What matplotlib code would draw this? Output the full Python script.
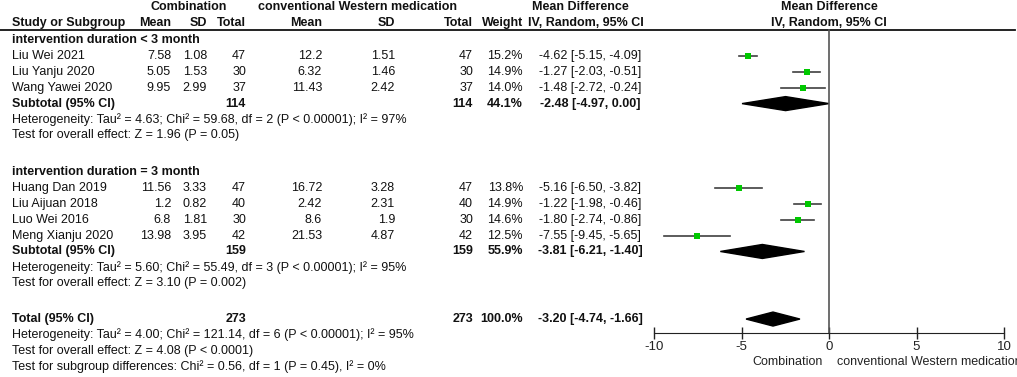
import numpy as np
import matplotlib
matplotlib.use("Agg")
import matplotlib.pyplot as plt

plt.rcParams['font.family'] = ['Liberation Sans', 'DejaVu Sans']

# study-level data
groups = ['intervention duration < 3 month', 'intervention duration = 3 month']
group_of = [0, 0, 0, 1, 1, 1, 1]
studies = ['Liu Wei 2021', 'Liu Yanju 2020', 'Wang Yawei 2020',
           'Huang Dan 2019', 'Liu Aijuan 2018', 'Luo Wei 2016', 'Meng Xianju 2020']
exp_mean = [7.58, 5.05, 9.95, 11.56, 1.2, 6.8, 13.98]
exp_sd = [1.08, 1.53, 2.99, 3.33, 0.82, 1.81, 3.95]
exp_n = [47, 30, 37, 47, 40, 30, 42]
ctl_mean = [12.2, 6.32, 11.43, 16.72, 2.42, 8.6, 21.53]
ctl_sd = [1.51, 1.46, 2.42, 3.28, 2.31, 1.9, 4.87]
ctl_n = [47, 30, 37, 47, 40, 30, 42]
weight = [15.2, 14.9, 14.0, 13.8, 14.9, 14.6, 12.5]
md = [-4.62, -1.27, -1.48, -5.16, -1.22, -1.80, -7.55]
md_lo = [-5.15, -2.03, -2.72, -6.50, -1.98, -2.74, -9.45]
md_hi = [-4.09, -0.51, -0.24, -3.82, -0.46, -0.86, -5.65]

# subgroup totals
sub_exp_n = [114, 159]
sub_ctl_n = [114, 159]
sub_weight = [44.1, 55.9]
sub_md = [-2.48, -3.81]
sub_lo = [-4.97, -6.21]
sub_hi = [0.00, -1.40]
sub_het = ['Heterogeneity: Tau\u00b2 = 4.63; Chi\u00b2 = 59.68, df = 2 (P < 0.00001); I\u00b2 = 97%',
           'Heterogeneity: Tau\u00b2 = 5.60; Chi\u00b2 = 55.49, df = 3 (P < 0.00001); I\u00b2 = 95%']
sub_z = ['Test for overall effect: Z = 1.96 (P = 0.05)',
         'Test for overall effect: Z = 3.10 (P = 0.002)']

# overall
tot_n = 273
tot_md, tot_lo, tot_hi = -3.20, -4.74, -1.66
tot_lines = ['Heterogeneity: Tau\u00b2 = 4.00; Chi\u00b2 = 121.14, df = 6 (P < 0.00001); I\u00b2 = 95%',
             'Test for overall effect: Z = 4.08 (P < 0.0001)',
             'Test for subgroup differences: Chi\u00b2 = 0.56, df = 1 (P = 0.45), I\u00b2 = 0%']

xticks = [-10, -5, 0, 5, 10]

W, H = 1017, 377
fig = plt.figure(figsize=(W / 100, H / 100), dpi=100)
ax = fig.add_axes([0, 0, 1, 1])
ax.set_xlim(0, W)
ax.set_ylim(H, 0)
ax.axis('off')

fp = fig.add_axes([654 / W, 0, 350 / W, 1])
fp.set_xlim(-10, 10)
fp.set_ylim(H, 0)
fp.patch.set_visible(False)
for s in ['top', 'left', 'right']:
    fp.spines[s].set_visible(False)
fp.spines['bottom'].set_position(('data', 333))
fp.spines['bottom'].set_color('#222222')
fp.set_yticks([])
fp.set_xticks(xticks)
fp.set_xticklabels([str(t) for t in xticks])
fp.tick_params(axis='x', direction='inout', length=9, width=1, labelsize=9.5,
               pad=1.5, colors='#222222')

FS = 9
col = dict(name=12, em=171, esd=207, en=246, cm=322, csd=395, cn=473, w=523, md=590)


def txt(x, y, s, ha='right', bold=False):
    ax.text(x, y, s, ha=ha, va='center', fontsize=FS,
            fontweight='bold' if bold else 'normal', color='#111111')


def diamond(y, m, lo, hi, h=7):
    fp.fill([lo, m, hi, m], [y, y - h, y, y + h], color='black', clip_on=False)


# headers
txt(189, 7, 'Combination', ha='center', bold=True)
txt(358, 7, 'conventional Western medication', ha='center', bold=True)
txt(580, 7, 'Mean Difference', ha='center', bold=True)
txt(col['name'], 23, 'Study or Subgroup', ha='left', bold=True)
for k, lab in [('em', 'Mean'), ('esd', 'SD'), ('en', 'Total'), ('cm', 'Mean'),
               ('csd', 'SD'), ('cn', 'Total'), ('w', 'Weight')]:
    txt(col[k], 23, lab, bold=True)
txt(586, 23, 'IV, Random, 95% CI', ha='center', bold=True)
fp.text(0, 7, 'Mean Difference', ha='center', va='center', fontsize=FS,
        fontweight='bold', color='#111111')
fp.text(0, 23, 'IV, Random, 95% CI', ha='center', va='center', fontsize=FS,
        fontweight='bold', color='#111111')
ax.plot([0, 1015], [30, 30], color='#111111', lw=1.3)
fp.plot([0, 0], [30, 333], color='#555555', lw=1.2, clip_on=False)

step = 15.9
y0 = 40
k = 0.0
for g, gname in enumerate(groups):
    txt(col['name'], y0 + step * k, gname, ha='left', bold=True)
    k += 1
    for i in [j for j in range(len(studies)) if group_of[j] == g]:
        y = y0 + step * k
        txt(col['name'], y, studies[i], ha='left')
        txt(col['em'], y, f'{exp_mean[i]:g}')
        txt(col['esd'], y, f'{exp_sd[i]:g}')
        txt(col['en'], y, str(exp_n[i]))
        txt(col['cm'], y, f'{ctl_mean[i]:g}')
        txt(col['csd'], y, f'{ctl_sd[i]:g}')
        txt(col['cn'], y, str(ctl_n[i]))
        txt(col['w'], y, f'{weight[i]:.1f}%')
        txt(col['md'], y, f'{md[i]:.2f} [{md_lo[i]:.2f}, {md_hi[i]:.2f}]', ha='center')
        fp.plot([md_lo[i], md_hi[i]], [y, y], color='#404040', lw=1.2, clip_on=False)
        fp.plot([md[i]], [y], 's', color='#00c800', mew=0,
                ms=4.0 * (weight[i] / 15.2) ** 0.5, clip_on=False, zorder=3)
        k += 1
    y = y0 + step * k
    txt(col['name'], y, 'Subtotal (95% CI)', ha='left', bold=True)
    txt(col['en'], y, str(sub_exp_n[g]), bold=True)
    txt(col['cn'], y, str(sub_ctl_n[g]), bold=True)
    txt(col['w'], y, f'{sub_weight[g]:.1f}%', bold=True)
    txt(col['md'], y, f'{sub_md[g]:.2f} [{sub_lo[g]:.2f}, {sub_hi[g]:.2f}]', ha='center', bold=True)
    diamond(y, sub_md[g], sub_lo[g], sub_hi[g])
    k += 1
    txt(col['name'], y0 + step * k, sub_het[g], ha='left')
    k += 1
    txt(col['name'], y0 + step * k, sub_z[g], ha='left')
    k += 2.3

k -= 0.05
y = y0 + step * k
txt(col['name'], y, 'Total (95% CI)', ha='left', bold=True)
txt(col['en'], y, str(tot_n), bold=True)
txt(col['cn'], y, str(tot_n), bold=True)
txt(col['w'], y, '100.0%', bold=True)
txt(col['md'], y, f'{tot_md:.2f} [{tot_lo:.2f}, {tot_hi:.2f}]', ha='center', bold=True)
diamond(y, tot_md, tot_lo, tot_hi)
for line in tot_lines:
    k += 1
    txt(col['name'], y0 + step * k, line, ha='left')

# direction labels under the axis (the right one runs off the edge, as in the source)
fp.text(-0.35, 362, 'Combination', ha='right', va='center', fontsize=FS, color='#222222')
fp.text(0.45, 362, 'conventional Western medication', ha='left', va='center',
        fontsize=FS, color='#222222')

fig.savefig('out.png', dpi=100)
